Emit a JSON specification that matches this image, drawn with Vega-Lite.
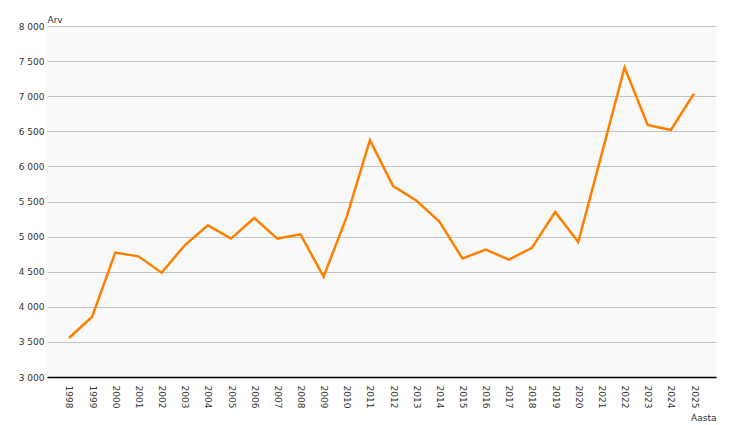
{
  "$schema": "https://vega.github.io/schema/vega-lite/v6.json",
  "width": 669,
  "height": 351,
  "autosize": "none",
  "padding": {"left": 47, "top": 26, "right": 22, "bottom": 48},
  "background": "white",
  "config": {
    "view": {"fill": "#f9f9f9", "stroke": null},
    "font": "DejaVu Sans"
  },
  "data": {
    "values": [
      {"Aasta": "1998", "Arv": 3555},
      {"Aasta": "1999", "Arv": 3858},
      {"Aasta": "2000", "Arv": 4772},
      {"Aasta": "2001", "Arv": 4719},
      {"Aasta": "2002", "Arv": 4486},
      {"Aasta": "2003", "Arv": 4876},
      {"Aasta": "2004", "Arv": 5161},
      {"Aasta": "2005", "Arv": 4972},
      {"Aasta": "2006", "Arv": 5265},
      {"Aasta": "2007", "Arv": 4972},
      {"Aasta": "2008", "Arv": 5033},
      {"Aasta": "2009", "Arv": 4429},
      {"Aasta": "2010", "Arv": 5285},
      {"Aasta": "2011", "Arv": 6375},
      {"Aasta": "2012", "Arv": 5720},
      {"Aasta": "2013", "Arv": 5514},
      {"Aasta": "2014", "Arv": 5214},
      {"Aasta": "2015", "Arv": 4687},
      {"Aasta": "2016", "Arv": 4815},
      {"Aasta": "2017", "Arv": 4672},
      {"Aasta": "2018", "Arv": 4840},
      {"Aasta": "2019", "Arv": 5351},
      {"Aasta": "2020", "Arv": 4923},
      {"Aasta": "2021", "Arv": 6160},
      {"Aasta": "2022", "Arv": 7409},
      {"Aasta": "2023", "Arv": 6590},
      {"Aasta": "2024", "Arv": 6518},
      {"Aasta": "2025", "Arv": 7037}
    ]
  },
  "mark": {"type": "line", "color": "#ff7f00", "strokeWidth": 2.5},
  "encoding": {
    "x": {
      "field": "Aasta",
      "type": "ordinal",
      "scale": {"type": "point", "padding": 0.95},
      "axis": {
        "title": "Aasta",
        "titleFont": "DejaVu Sans",
        "titleFontSize": 9,
        "titleFontWeight": "normal",
        "titleColor": "#333333",
        "titleAnchor": "end",
        "titleAlign": "right",
        "titleBaseline": "bottom",
        "titleX": 669,
        "titleY": 45,
        "labelAngle": 90,
        "labelAlign": "left",
        "labelBaseline": "middle",
        "labelFontSize": 9,
        "labelColor": "#333333",
        "labelPadding": 8,
        "ticks": false,
        "domain": true,
        "domainColor": "#000000",
        "domainWidth": 1.5,
        "grid": false
      }
    },
    "y": {
      "field": "Arv",
      "type": "quantitative",
      "scale": {"domain": [3000, 8000], "nice": false, "zero": false},
      "axis": {
        "title": "Arv",
        "titleFont": "DejaVu Sans",
        "titleFontSize": 9,
        "titleFontWeight": "normal",
        "titleColor": "#333333",
        "titleAngle": 0,
        "titleAlign": "left",
        "titleBaseline": "bottom",
        "titleX": 0,
        "titleY": -2,
        "values": [3000, 3500, 4000, 4500, 5000, 5500, 6000, 6500, 7000, 7500, 8000],
        "labelExpr": "replace(format(datum.value, ','), ',', ' ')",
        "labelFontSize": 9,
        "labelColor": "#333333",
        "labelPadding": 3,
        "ticks": false,
        "domain": false,
        "grid": true,
        "gridColor": "#c4c4c4",
        "gridWidth": 1
      }
    }
  }
}
